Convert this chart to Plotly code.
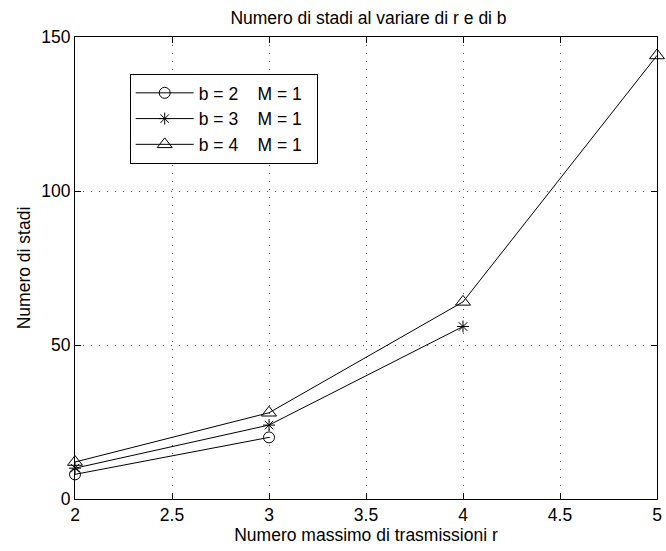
import plotly.graph_objects as go

# Numero massimo di trasmissioni r
r_b2 = [2, 3]
r_b3 = [2, 3, 4]
r_b4 = [2, 3, 4, 5]

# Numero di stadi per ciascun valore di b (M = 1)
stadi_b2 = [8, 20]
stadi_b3 = [10, 24, 56]
stadi_b4 = [12, 28, 64, 144]

nbsp = "\u00a0"
labels = [f"b = 2{nbsp*4}M = 1{nbsp*2}", f"b = 3{nbsp*4}M = 1{nbsp*2}",
          f"b = 4{nbsp*4}M = 1{nbsp*2}"]

x_ticks = [2, 2.5, 3, 3.5, 4, 4.5, 5]
x_ticktext = ["2", "2.5", "3", "3.5", "4", "4.5", "5"]
y_ticks = [0, 50, 100, 150]

FONT = "Liberation Sans, Arial, Helvetica, sans-serif"
FS = 17.5

fig = go.Figure()
series = [
    (r_b2, stadi_b2, labels[0], "circle-open", 11),
    (r_b3, stadi_b3, labels[1], "asterisk-open", 10),
    (r_b4, stadi_b4, labels[2], "triangle-up-open", 13),
]
for xs, ys, name, sym, size in series:
    fig.add_trace(go.Scatter(
        x=xs, y=ys, name=name, mode="lines+markers",
        line=dict(color="black", width=1),
        marker=dict(symbol=sym, size=size, color="black",
                    line=dict(color="black", width=1)),
        cliponaxis=False,
    ))

axis_common = dict(
    showline=True, linecolor="black", linewidth=1, mirror="ticks",
    ticks="inside", ticklen=6, tickcolor="black", tickwidth=1,
    showgrid=True, gridcolor="#555555", gridwidth=1, griddash="1px,7px",
    zeroline=False, tickfont=dict(family=FONT, size=FS, color="black"),
    ticklabeloverflow="allow",
)

fig.update_xaxes(range=[2, 5], tickvals=x_ticks, ticktext=x_ticktext,
                 title=dict(text="Numero massimo di trasmissioni r",
                            font=dict(family=FONT, size=FS, color="black"),
                            standoff=4),
                 **axis_common)
fig.update_yaxes(range=[0, 150], tickvals=y_ticks,
                 title=dict(text="Numero di stadi",
                            font=dict(family=FONT, size=FS, color="black"),
                            standoff=6),
                 **axis_common)

fig.update_layout(
    width=666, height=551,
    margin=dict(l=75, r=4, t=37, b=52),
    paper_bgcolor="white", plot_bgcolor="white",
    title=dict(text="Numero di stadi al variare di r e di b",
               x=(75 + 662) / 2 / 666, xanchor="center", y=1 - 18 / 551, yanchor="middle",
               font=dict(family=FONT, size=FS, color="black")),
    font=dict(family=FONT, size=FS, color="black"),
    legend=dict(x=0.094, y=0.92, xanchor="left", yanchor="top",
                bgcolor="white", bordercolor="black", borderwidth=1,
                font=dict(family=FONT, size=FS, color="black"),
                tracegroupgap=0, itemwidth=58),
    showlegend=True,
)

fig.write_html("out.html")
